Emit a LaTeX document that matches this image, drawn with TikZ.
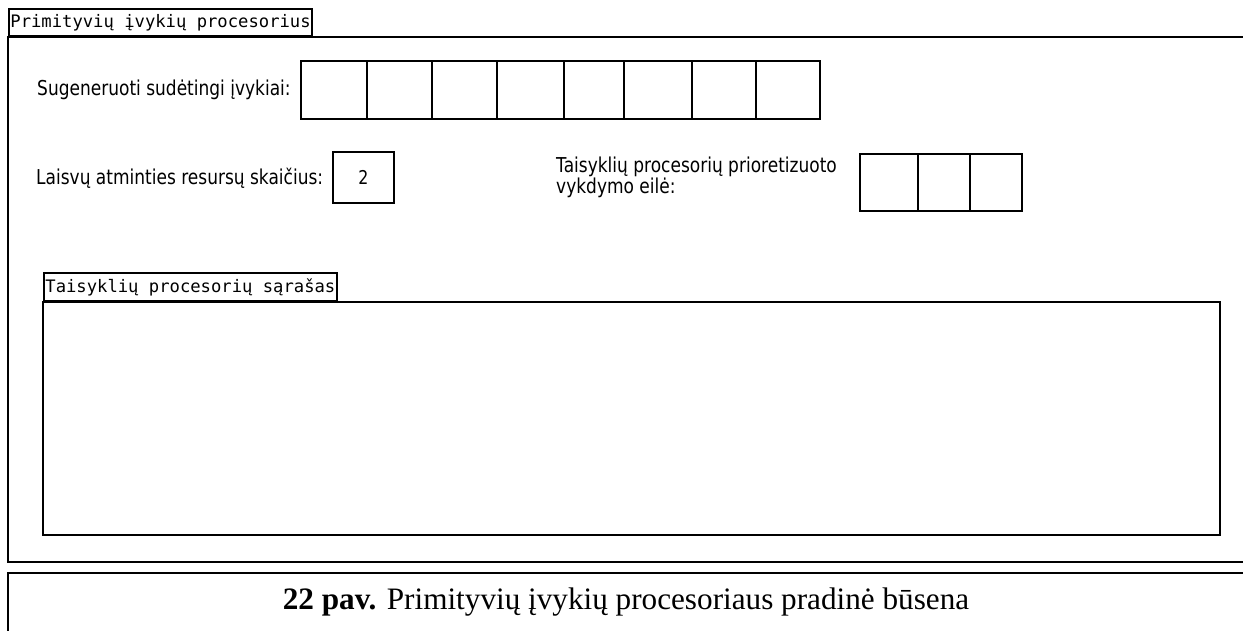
\documentclass[tikz,border=0pt]{standalone}
\usepackage{fontspec}
\setmainfont{Liberation Serif}
\newfontfamily\uifont[FakeStretch=0.83]{DejaVu Sans}
\newfontfamily\tabfont{DejaVu Sans Mono}
\begin{document}
\begin{tikzpicture}[x=1pt,y=-1pt,
  frame/.style={line width=2.6pt},
  cell/.style={draw,line width=2.2pt,inner sep=0pt,minimum height=58pt},
  tabtitle/.style={draw,line width=2.2pt,anchor=south west,inner xsep=1.3pt,inner ysep=0pt,
    minimum height=27pt,font=\tabfont\fontsize{17.2}{20}\selectfont,text depth=5pt,text height=16pt},
  uilabel/.style={anchor=west,inner sep=0pt,font=\uifont\fontsize{20.5}{19.5}\selectfont},
  caption/.style={inner sep=0pt,font=\fontsize{31.2}{34}\selectfont}]
\useasboundingbox (0,0) rectangle (1243,630);
\clip (0,0) rectangle (1243,630);

% outer panel with its title tab
\node[tabtitle] (ptab) at (8,37) {Primityvių įvykių procesorius};
\coordinate (ptl) at (8,37);
\coordinate (pbl) at (8,562);
\draw[frame] (1260,37) -- (ptl) -- (pbl) -- (1260,562);

% generated complex events
\node[uilabel] (lgen) at (37,90) {Sugeneruoti sudėtingi įvykiai:};
\foreach \a/\b [count=\i] in {301/367,367/432,432/497,497/564,564/624,624/692,692/756,756/820}
  \node[cell,minimum width={(\b-\a)*1pt}] (g\i) at ({(\a+\b)/2},90) {};

% free memory resources
\node[uilabel] (lmem) at (36,178) {Laisvų atminties resursų skaičius:};
\node[cell,minimum width=61pt,minimum height=51pt,font=\uifont\fontsize{19}{20}\selectfont] (mem) at (363.5,177.5) {2};

% prioritised execution queue
\node[uilabel,align=left] (lqueue) at (556,177) {Taisyklių procesorių prioretizuoto\\vykdymo eilė:};
\foreach \a/\b [count=\i] in {860/918,918/970,970/1022}
  \node[cell,minimum width={(\b-\a)*1pt},minimum height=57pt] (q\i) at ({(\a+\b)/2},182.5) {};

% rule processor list
\node[tabtitle,minimum height=28pt] (ltab) at (43,302) {Taisyklių procesorių sąrašas};
\node[draw,line width=2.2pt,inner sep=0pt,minimum width=1177pt,minimum height=233pt] (list) at (631.5,418.5) {};

% caption box
\coordinate (ctl) at (8,573);
\draw[line width=1.6pt] (1260,573) -- (ctl) -- (8,640);
\node[caption] (cap) at (626,602) {\textbf{22 pav.} Primityvių įvykių procesoriaus pradinė būsena};
\end{tikzpicture}
\end{document}
